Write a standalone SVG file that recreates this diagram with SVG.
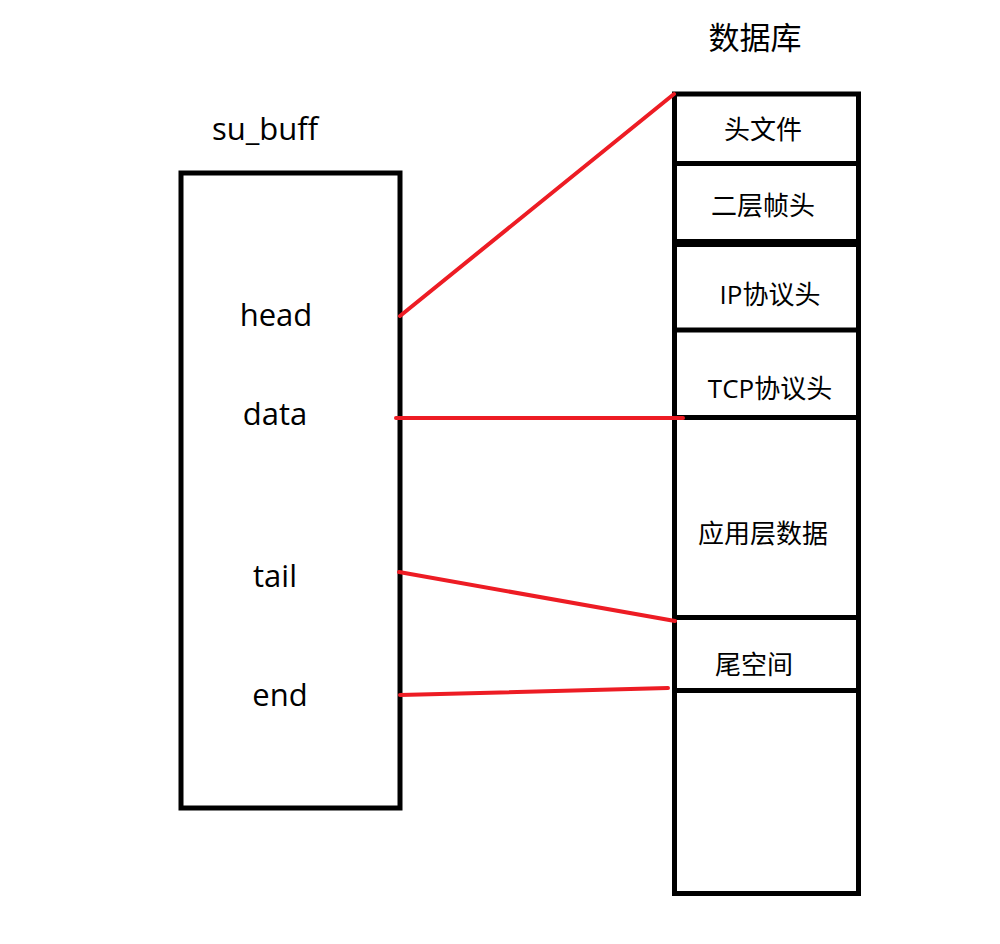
<svg xmlns="http://www.w3.org/2000/svg" width="1000" height="944" viewBox="0 0 1000 944">
<style>
.box{fill:none;stroke:#000;stroke-width:5}
.div{stroke:#000;stroke-width:5}
.red{stroke:#ED1C24;stroke-width:4;stroke-linecap:round}
.lat{font-family:"Open Sans","Noto Sans CJK SC",sans-serif;font-size:31px;fill:#000;text-anchor:middle}
.cjk{font-family:"Open Sans","Noto Sans CJK SC",sans-serif;font-size:26px;fill:#000;text-anchor:middle}
</style>
<rect width="1000" height="944" fill="#fff"/>
<g id="su_buff">
<rect class="box" x="181" y="173" width="219" height="635"/>
<text class="lat" x="265" y="140">su_buff</text>
<text class="lat" x="276" y="326">head</text>
<text class="lat" x="275" y="425">data</text>
<text class="lat" x="275" y="587">tail</text>
<text class="lat" x="280" y="706">end</text>
</g>
<g id="database">
<rect class="box" x="674.5" y="94" width="184" height="799.5"/>
<text class="lat" x="755" y="49">数据库</text>
<line class="div" x1="674" y1="163.5" x2="859" y2="163.5"/>
<line class="div" x1="674" y1="243" x2="859" y2="243" style="stroke-width:8"/>
<line class="div" x1="674" y1="330" x2="859" y2="330"/>
<line class="div" x1="674" y1="417.5" x2="859" y2="417.5"/>
<line class="div" x1="674" y1="617.5" x2="859" y2="617.5"/>
<line class="div" x1="674" y1="690.5" x2="859" y2="690.5"/>
<text class="cjk" x="763" y="139">头文件</text>
<text class="cjk" x="763" y="215">二层帧头</text>
<text class="cjk" x="770" y="304">IP协议头</text>
<text class="cjk" x="770" y="398">TCP协议头</text>
<text class="cjk" x="763" y="543">应用层数据</text>
<text class="cjk" x="754" y="674">尾空间</text>
</g>
<g id="connectors">
<line class="red" x1="400" y1="316" x2="674" y2="94"/>
<line class="red" x1="396" y1="418" x2="683" y2="418"/>
<line class="red" x1="399" y1="572" x2="675" y2="621"/>
<line class="red" x1="400" y1="695" x2="668" y2="688"/>
</g>
</svg>
